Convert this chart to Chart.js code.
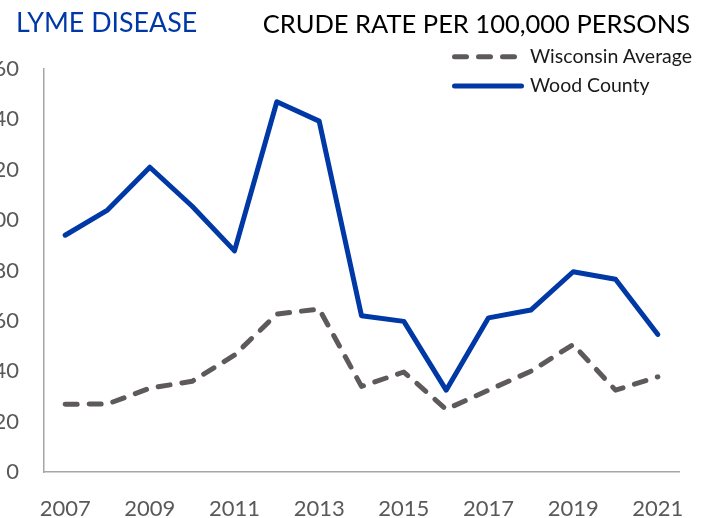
<!DOCTYPE html>
<html>
<head>
<meta charset="utf-8">
<script src="https://cdn.jsdelivr.net/npm/chart.js@4/dist/chart.umd.min.js"></script>
<style>
  html, body { margin: 0; padding: 0; background: #fff; }
  body { width: 710px; height: 518px; position: relative; overflow: hidden; font-family: Lato, "Open Sans", sans-serif; }
  #wrap { position: absolute; left: -30px; top: 0; width: 740px; height: 518px; }
  .t { position: absolute; white-space: nowrap; line-height: 1; }
  #title { left: 16px; top: 9px; font-size: 26.8px; color: #0039A6; }
  #sub { right: 20px; top: 10.6px; font-size: 25.5px; color: #000; }
  #leg1 { left: 530px; top: 45.5px; font-size: 19.5px; color: #1a1a1a; }
  #leg2 { left: 530px; top: 74.8px; font-size: 19.5px; color: #1a1a1a; }
  #legsvg { position: absolute; left: 0; top: 0; }
</style>
</head>
<body>
<div id="wrap"><canvas id="c" width="740" height="518"></canvas></div>
<div class="t" id="title">LYME DISEASE</div>
<div class="t" id="sub">CRUDE RATE PER 100,000 PERSONS</div>
<svg id="legsvg" width="710" height="110">
  <line x1="454.5" y1="56.7" x2="516" y2="56.7" stroke="#5E5A5A" stroke-width="5" stroke-linecap="round" stroke-dasharray="12 12"/>
  <line x1="454.5" y1="86" x2="521.5" y2="86" stroke="#0039A6" stroke-width="5" stroke-linecap="round"/>
</svg>
<div class="t" id="leg1">Wisconsin Average</div>
<div class="t" id="leg2">Wood County</div>
<script>
const years = ['2007','2008','2009','2010','2011','2012','2013','2014','2015','2016','2017','2018','2019','2020','2021'];
const wisconsinAverage = [26.9, 27.0, 33.3, 36.0, 46.4, 62.7, 64.7, 34.0, 39.7, 24.9, 32.5, 40.0, 50.6, 32.5, 37.8];
const woodCounty = [94.0, 104.0, 121.0, 105.5, 87.8, 147.0, 139.3, 62.0, 59.8, 32.5, 61.2, 64.3, 79.5, 76.5, 54.6];
const yTicks = [0, 20, 40, 60, 80, 100, 120, 140, 160];

new Chart(document.getElementById('c'), {
  type: 'line',
  data: {
    labels: years,
    datasets: [
      {
        label: 'Wisconsin Average',
        data: wisconsinAverage,
        borderColor: '#5E5A5A',
        borderWidth: 5,
        borderDash: [12, 12],
        borderCapStyle: 'round',
        borderJoinStyle: 'round',
        pointRadius: 0,
        tension: 0,
        fill: false
      },
      {
        label: 'Wood County',
        data: woodCounty,
        borderColor: '#0039A6',
        borderWidth: 5,
        borderCapStyle: 'round',
        borderJoinStyle: 'round',
        pointRadius: 0,
        tension: 0,
        fill: false
      }
    ]
  },
  options: {
    responsive: false,
    animation: false,
    devicePixelRatio: 1,
    layout: { padding: { top: 69, right: 31, left: 0, bottom: 0 } },
    plugins: { legend: { display: false }, tooltip: { enabled: false } },
    scales: {
      x: {
        type: 'category',
        offset: true,
        grid: { display: false, drawTicks: false },
        border: { display: true, color: '#A6A6A6', width: 1.5 },
        ticks: {
          autoSkip: false,
          maxRotation: 0,
          minRotation: 0,
          padding: 24,
          color: '#595959',
          font: { family: 'Lato', size: 22 },
          callback: function(v, i) { return i % 2 === 0 ? years[i] : ''; }
        },
        afterFit: function(s) { s.height = 46; }
      },
      y: {
        min: 0,
        max: 160,
        afterBuildTicks: function(s) { s.ticks = yTicks.map(v => ({ value: v })); },
        grid: { display: false, drawTicks: false },
        border: { display: true, color: '#A6A6A6', width: 1.5 },
        ticks: {
          padding: 25,
          color: '#595959',
          font: { family: 'Lato', size: 22 }
        },
        afterFit: function(s) { s.width = 74; }
      }
    }
  }
});
</script>
</body>
</html>
